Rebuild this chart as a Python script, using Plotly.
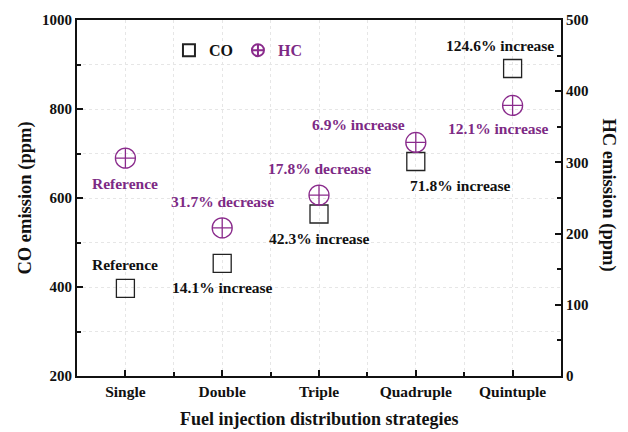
import plotly.graph_objects as go

# Injection strategies and measured emissions
strategies = ["Single", "Double", "Triple", "Quadruple", "Quintuple"]
co_ppm = [397, 453, 564, 682, 891]
hc_ppm = [306, 208, 254, 328, 380]

co_labels = ["Reference", "14.1% increase", "42.3% increase", "71.8% increase", "124.6% increase"]
hc_labels = ["Reference", "31.7% decrease", "17.8% decrease", "6.9% increase", "12.1% increase"]

# label offsets in pixels (x, y) relative to each marker
co_offsets = [(0, 24), (0, -24), (0, -24), (45, -24), (-13, 23)]
hc_offsets = [(0, -25), (0, 26), (0, 27), (-57, 18), (-14, -23)]

FONT = "Liberation Serif"
PURPLE = "#8a2b8c"
PURPLE_TXT = "#7d2a85"

x_idx = list(range(len(strategies)))

fig = go.Figure()
fig.add_trace(go.Scatter(
    x=x_idx, y=co_ppm, mode="markers", name="CO",
    marker=dict(symbol="square-open", size=18, color="#222222", line=dict(width=1.3)),
))
fig.add_trace(go.Scatter(
    x=x_idx, y=hc_ppm, mode="markers", yaxis="y2",
    name=f"<span style='color:{PURPLE_TXT}'>HC</span>",
    marker=dict(symbol="circle-cross-open", size=20, color=PURPLE, line=dict(width=1.3)),
))

for xi, v, t, (dx, dy) in zip(x_idx, co_ppm, co_labels, co_offsets):
    fig.add_annotation(x=xi, y=v, text=t, showarrow=False, xshift=dx, yshift=dy,
                       font=dict(family=FONT, size=15.5, color="#111111", weight="bold"))
for xi, v, t, (dx, dy) in zip(x_idx, hc_ppm, hc_labels, hc_offsets):
    fig.add_annotation(x=xi, y=v, yref="y2", text=t, showarrow=False, xshift=dx, yshift=dy,
                       font=dict(family=FONT, size=15.5, color=PURPLE_TXT, weight="bold"))

# x-axis title and right-hand axis title (the latter reads top to bottom)
fig.add_annotation(xref="paper", yref="paper", x=0.5, y=-0.122, yanchor="middle",
                   text="Fuel injection distribution strategies", showarrow=False,
                   font=dict(family=FONT, size=18, color="#111111", weight="bold"))
fig.add_annotation(xref="paper", yref="paper", x=1.125, y=0.51, text="HC emission (ppm)",
                   textangle=90, showarrow=False,
                   font=dict(family=FONT, size=18.5, color="#111111", weight="bold"))

grid = dict(showgrid=True, gridcolor="#e6e6e6", griddash="dot", gridwidth=1)

fig.update_layout(
    width=628, height=432,
    margin=dict(l=77, r=67, t=16, b=56),
    paper_bgcolor="white", plot_bgcolor="white",
    font=dict(family=FONT, size=15, color="#111111", weight="bold"),
    showlegend=True,
    legend=dict(orientation="h", x=0.19, y=0.915, xanchor="left", yanchor="middle",
                bgcolor="rgba(0,0,0,0)", itemsizing="constant",
                font=dict(family=FONT, size=16, color="#111111", weight="bold")),
    xaxis=dict(
        range=[-0.5, 4.5], tickvals=x_idx, ticktext=strategies, automargin=False,
        ticks="inside", ticklen=6, tickwidth=1.5, tickcolor="#111111",
        showline=True, linecolor="#111111", linewidth=2, mirror=True,
        zeroline=False, **grid,
        minor=dict(tick0=0.5, dtick=1, ticks="inside", ticklen=4, tickcolor="#111111",
                   showgrid=True, gridcolor="#e6e6e6", griddash="dot"),
        tickfont=dict(family=FONT, size=15.5, weight="bold"),
    ),
    yaxis=dict(
        range=[200, 1000], dtick=200, ticks="inside", ticklen=6, tickwidth=1.5,
        tickcolor="#111111", showline=True, linecolor="#111111", linewidth=2,
        zeroline=False, **grid,
        minor=dict(dtick=100, ticks="inside", ticklen=4, tickcolor="#111111",
                   showgrid=True, gridcolor="#e6e6e6", griddash="dot"),
        title=dict(text="CO emission (ppm)", standoff=6,
                   font=dict(family=FONT, size=18.5, weight="bold")),
        tickfont=dict(family=FONT, size=15, weight="bold"),
    ),
    yaxis2=dict(
        overlaying="y", side="right", range=[0, 500], dtick=100,
        ticks="inside", ticklen=6, tickwidth=1.5, tickcolor="#111111",
        showline=True, linecolor="#111111", linewidth=2, showgrid=False, zeroline=False,
        minor=dict(dtick=50, ticks="inside", ticklen=4, tickcolor="#111111", showgrid=False),
        tickfont=dict(family=FONT, size=15, weight="bold"),
    ),
)

fig.write_html("out.html")
